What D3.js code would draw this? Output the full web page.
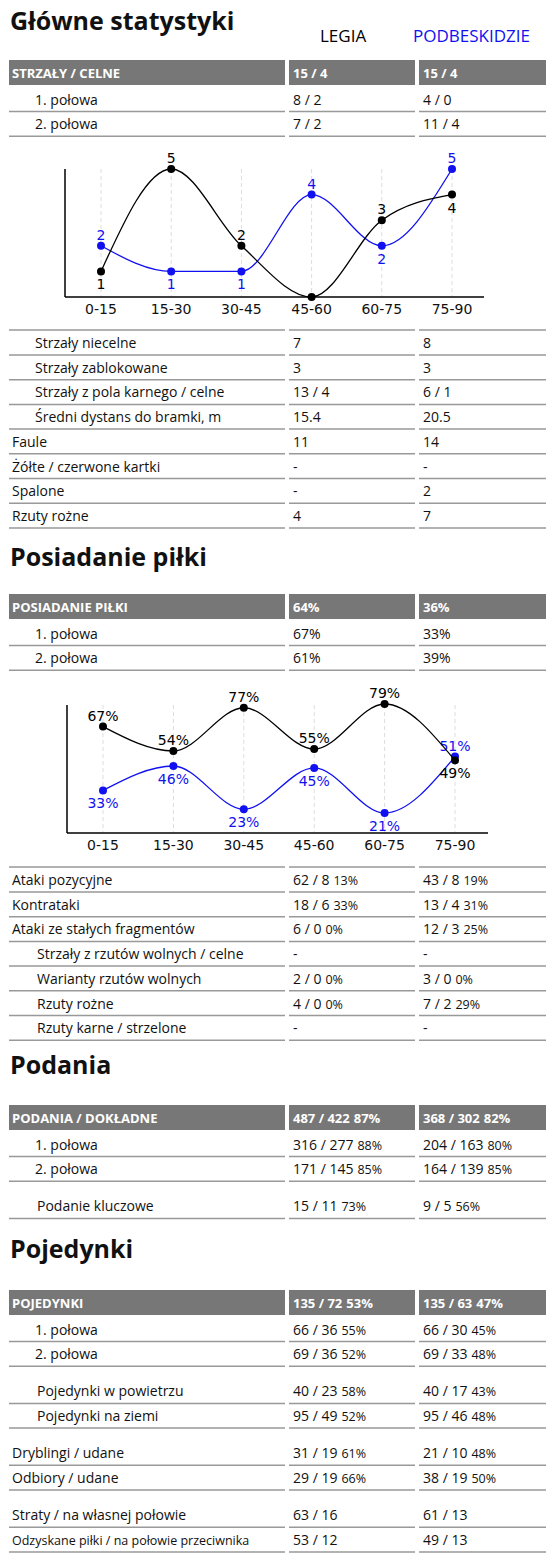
<!DOCTYPE html>
<html><head><meta charset="utf-8">
<script src="https://cdn.jsdelivr.net/npm/d3@7"></script>
<style>body{margin:0;background:#fff}</style></head>
<body><svg id="c" width="557" height="1559"></svg>
<script>
const periods = ["0-15","15-30","30-45","45-60","60-75","75-90"];
const shotsLegia = [1,5,2,0,3,4];
const shotsPodb  = [2,1,1,4,2,5];
const possLegia = [67,54,77,55,79,49];
const possPodb  = [33,46,23,45,21,51];

const teams = ["LEGIA","PODBESKIDZIE"];
const titles = ["Główne statystyki","Posiadanie piłki","Podania","Pojedynki"];

// rows: [label, legia, legia%, podb, podb%, indent]
const rowsStrzaly = [
 ["STRZAŁY / CELNE","15 / 4","","15 / 4","",-1],
 ["1. połowa","8 / 2","","4 / 0","",1],
 ["2. połowa","7 / 2","","11 / 4","",1]];
const rowsStrzaly2 = [
 ["Strzały niecelne","7","","8","",1],
 ["Strzały zablokowane","3","","3","",1],
 ["Strzały z pola karnego / celne","13 / 4","","6 / 1","",1],
 ["Średni dystans do bramki, m","15.4","","20.5","",1],
 ["Faule","11","","14","",0],
 ["Żółte / czerwone kartki","-","","-","",0],
 ["Spalone","-","","2","",0],
 ["Rzuty rożne","4","","7","",0]];
const rowsPos = [
 ["POSIADANIE PIŁKI","64%","","36%","",-1],
 ["1. połowa","67%","","33%","",1],
 ["2. połowa","61%","","39%","",1]];
const rowsPos2 = [
 ["Ataki pozycyjne","62 / 8","13%","43 / 8","19%",0],
 ["Kontrataki","18 / 6","33%","13 / 4","31%",0],
 ["Ataki ze stałych fragmentów","6 / 0","0%","12 / 3","25%",0],
 ["Strzały z rzutów wolnych / celne","-","","-","",2],
 ["Warianty rzutów wolnych","2 / 0","0%","3 / 0","0%",2],
 ["Rzuty rożne","4 / 0","0%","7 / 2","29%",2],
 ["Rzuty karne / strzelone","-","","-","",2]];
const rowsPod = [
 ["PODANIA / DOKŁADNE","487 / 422","87%","368 / 302","82%",-1],
 ["1. połowa","316 / 277","88%","204 / 163","80%",1],
 ["2. połowa","171 / 145","85%","164 / 139","85%",1],
 null,
 ["Podanie kluczowe","15 / 11","73%","9 / 5","56%",2]];
const rowsPoj = [
 ["POJEDYNKI","135 / 72","53%","135 / 63","47%",-1],
 ["1. połowa","66 / 36","55%","66 / 30","45%",1],
 ["2. połowa","69 / 36","52%","69 / 33","48%",1],
 null,
 ["Pojedynki w powietrzu","40 / 23","58%","40 / 17","43%",2],
 ["Pojedynki na ziemi","95 / 49","52%","95 / 46","48%",2],
 null,
 ["Dryblingi / udane","31 / 19","61%","21 / 10","48%",0],
 ["Odbiory / udane","29 / 19","66%","38 / 19","50%",0],
 null,
 ["Straty / na własnej połowie","63 / 16","","61 / 13","",0],
 ["Odzyskane piłki / na połowie przeciwnika","53 / 12","","49 / 13","",0]];

const svg = d3.select("#c");
const F = "'Open Sans', sans-serif";
const cols = [[9,285],[289,415],[419,546]];
const BLUE = "#1010f0";

function title(t,y){ svg.append("text").attr("x",10).attr("y",y).attr("font-family",F)
  .attr("font-size",25).attr("font-weight","bold").attr("fill","#111").text(t);}

title(titles[0],30);
svg.append("text").attr("x",320).attr("y",42).attr("font-family",F).attr("font-size",17).text(teams[0]);
svg.append("text").attr("x",413).attr("y",42).attr("font-family",F).attr("font-size",17).attr("fill",BLUE).text(teams[1]);

function table(rows, startY, pctX, opts={}){
  let y = startY;
  const step = opts.step || 24.7;
  if(opts.topLine){ cols.forEach(c=>svg.append("line").attr("x1",c[0]).attr("x2",c[1])
     .attr("y1",y-13).attr("y2",y-13).attr("stroke","#999").attr("stroke-width",1.5)); }
  rows.forEach((r,i)=>{
    if(r===null){ y += opts.gap||12; return; }
    const head = r[5]===-1;
    if(head){
      cols.forEach(c=>svg.append("rect").attr("x",c[0]).attr("y",y-13).attr("width",c[1]-c[0]).attr("height",25).attr("fill","#777"));
    } else {
      cols.forEach(c=>svg.append("line").attr("x1",c[0]).attr("x2",c[1]).attr("y1",y+12).attr("y2",y+12).attr("stroke","#999").attr("stroke-width",1.5));
    }
    const ind = head?12:[12,35,37][r[5]];
    const g = svg.append("g").attr("font-family",F).attr("fill",head?"#fff":"#111")
      .attr("font-weight",head?"bold":"normal");
    const fs = head?13:14;
    g.append("text").attr("x",ind).attr("y",y+5).attr("font-size", r[0].length>35?12.5:fs).text(r[0]);
    [[1,2,293,0],[3,4,423,1]].forEach(([vi,pi,vx,k])=>{
      const t = g.append("text").attr("x",vx).attr("y",y+5).attr("font-size",fs).text(r[vi]);
      if(r[pi]){
        const w = t.node().getComputedTextLength();
        const px = Math.max(pctX[k], vx+w+4);
        g.append("text").attr("x",px).attr("y",y+5).attr("font-size",head?13:12.5).text(r[pi]);
      }
    });
    y += (i===0 && head)? 26.5 : step;
  });
}

function chart(a,b,top,base,x0,x1,pMin,pMax,pct){
  const x = d3.scalePoint().domain(periods).range([pMin,pMax]);
  const y = pct ? d3.scaleLinear().domain([21,79]).range([813,704])
                : d3.scaleLinear().domain([0,5]).range([base,top]);
  const g = svg.append("g").attr("font-family","'DejaVu Sans', Verdana, sans-serif").attr("font-size",14);
  periods.forEach(p=>g.append("line").attr("x1",x(p)).attr("x2",x(p)).attr("y1",top).attr("y2",base)
     .attr("stroke","#ddd").attr("stroke-dasharray","4,3"));
  g.append("line").attr("x1",x0).attr("x2",x0).attr("y1",top).attr("y2",base).attr("stroke","#000").attr("stroke-width",1.5);
  g.append("line").attr("x1",x0).attr("x2",x1).attr("y1",base).attr("y2",base).attr("stroke","#000").attr("stroke-width",1.5);
  periods.forEach(p=>g.append("text").attr("x",x(p)).attr("y",base+17).attr("text-anchor","middle").attr("fill","#111").text(p));
  const line = d3.line().x((d,i)=>x(periods[i])).y(d=>y(d)).curve(d3.curveMonotoneX);
  [[b,a,BLUE],[a,b,"#000"]].forEach(([s,o,col])=>{
    g.append("path").attr("d",line(s)).attr("fill","none").attr("stroke",col).attr("stroke-width",1.3);
    s.forEach((v,i)=>{
      g.append("circle").attr("cx",x(periods[i])).attr("cy",y(v)).attr("r",4).attr("fill",col);
      if(v===0) return;
      const above = v>=o[i];
      g.append("text").attr("x",x(periods[i])).attr("y",above?y(v)-6:y(v)+18).attr("text-anchor","middle")
       .attr("fill",col).text(pct? v+"%" : v);
    });
  });
}

table(rowsStrzaly,73,[0,0]);
chart(shotsLegia,shotsPodb,169,297,65,484,101,452,false);
table(rowsStrzaly2,343,[0,0],{topLine:true});

title(titles[1],566);
table(rowsPos,607,[0,0]);
chart(possLegia,possPodb,705,833,67,488,103,455,true);
table(rowsPos2,880,[0,0],{topLine:true});

title(titles[2],1074);
table(rowsPod,1118,[0,0,],{gap:12.5});

title(titles[3],1258);
table(rowsPoj,1303,[0,0],{gap:12.5});
</script></body></html>
